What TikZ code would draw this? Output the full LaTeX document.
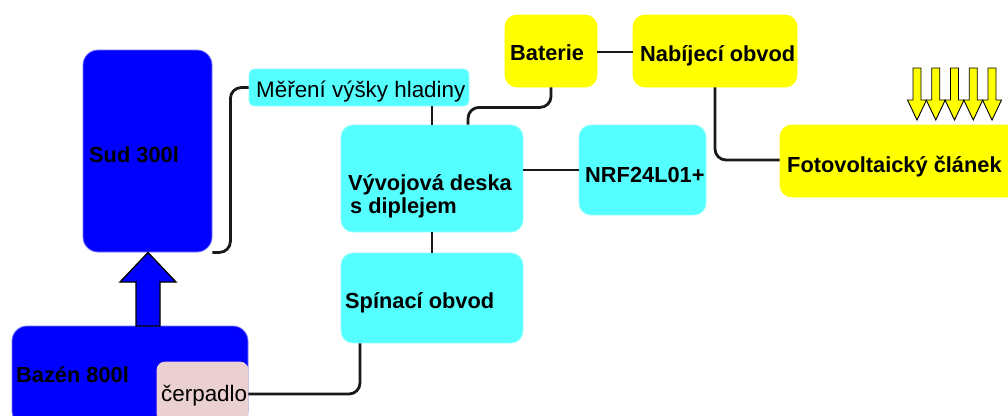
\documentclass[tikz,border=0pt]{standalone}
\usepackage{fontspec}
\setmainfont{Liberation Sans}
\usetikzlibrary{calc}
\definecolor{tankblue}{RGB}{0,0,255}
\definecolor{tankedge}{RGB}{120,120,255}
\definecolor{ctrlcyan}{RGB}{85,255,255}
\definecolor{ctrledge}{RGB}{150,255,255}
\definecolor{pwryellow}{RGB}{255,255,0}
\definecolor{pumppink}{RGB}{234,208,208}
\definecolor{wire}{RGB}{25,25,25}
\begin{document}
\begin{tikzpicture}[x=1pt,y=-1pt,
  blk/.style={inner sep=0pt, rounded corners=12pt, line width=0.8pt},
  tank/.style={blk, fill=tankblue, draw=tankedge, rounded corners=15pt},
  ctrl/.style={blk, fill=ctrlcyan, draw=ctrledge},
  pwr/.style={blk, fill=pwryellow, draw=pwryellow},
  pump/.style={blk, fill=pumppink, draw=pumppink, rounded corners=8pt},
  lbl/.style={inner sep=0pt, anchor=base west, text=black,
              font=\fontsize{21.8}{24}\selectfont\bfseries},
  lblr/.style={inner sep=0pt, anchor=base west, text=black,
              font=\fontsize{22.4}{25}\selectfont},
  wired/.style={draw=wire, line width=2.8pt, rounded corners=11pt},
  bigarrow/.style={fill=tankblue, draw=black, line width=1.3pt, line join=miter},
  sunray/.style={fill=pwryellow, draw=black, line width=0.9pt, line join=miter}]
\useasboundingbox (0,0) rectangle (1008,415);
\clip (0,0) rectangle (1008,415);

% water tanks and pump
\node[tank, minimum width=129pt, minimum height=202pt] (sud) at (147.5,151) {};
\node[tank, minimum width=236pt, minimum height=100pt] (bazen) at (130,376) {};
\node[pump, minimum width=91pt, minimum height=60pt] (cerp) at (202.5,392) {};

% pumping direction: pool to barrel
\draw[bigarrow] (148,252.5) -- (176,282) -- (160,282) -- (160,326)
  -- (136,326) -- (136,282) -- (120,282) -- cycle;

% control electronics
\node[ctrl, rounded corners=5pt, minimum width=220pt, minimum height=37pt] (mereni) at (359,87.5) {};
\node[ctrl, minimum width=182pt, minimum height=107pt] (vyvoj) at (432,178.5) {};
\node[ctrl, minimum width=127pt, minimum height=90pt] (nrf) at (642.5,170) {};
\node[ctrl, minimum width=182pt, minimum height=90pt] (spin) at (432,298) {};

% power supply
\node[pwr, minimum width=92pt, minimum height=72pt] (bat) at (551,51) {};
\node[pwr, minimum width=164pt, minimum height=72pt] (nab) at (715,51) {};
\node[pwr, minimum width=240pt, minimum height=72pt] (foto) at (900,161) {};

% sunlight falling on the panel
\foreach \c in {917,935.75,954.5,973.25,992}
  \draw[sunray] (\c-4,68) -- (\c+4,68) -- (\c+4,100) -- (\c+9.5,100)
    -- (\c,120) -- (\c-9.5,100) -- (\c-4,100) -- cycle;

% wiring
\draw[wired] (sud.south east) -- ++(18,0) |- (mereni.west);
\draw[wired] (vyvoj.north) -- (vyvoj.north |- mereni.south);
\draw[wired] (bat.south) -- ++(0,20) -| ([xshift=36pt]vyvoj.north);
\draw[wired] (bat.east |- 0,52) -- (nab.west |- 0,52);
\draw[wired] (nab.south) |- ([yshift=1pt]foto.west);
\draw[wired] (nrf.west) -- (nrf.west -| vyvoj.east);
\draw[wired] (vyvoj.south) -- (spin.north);
\draw[wired] ([xshift=-72pt]spin.south) |- ([yshift=-2pt]cerp.east);

% labels
\node[lbl] (sudT) at (89,162) {Sud 300l};
\node[lbl] (bazenT) at (16,382) {Bazén 800l};
\node[lblr] (cerpT) at (161,401) {čerpadlo};
\node[lblr] (mereniT) at (256,97) {Měření výšky hladiny};
\node[lbl] (vyvojT) at (348,190) {Vývojová deska};
\node[lbl] (vyvojT2) at (350,213) {s diplejem};
\node[lbl] (nrfT) at (585,182) {NRF24L01+};
\node[lbl] (spinT) at (345,308) {Spínací obvod};
\node[lbl] (batT) at (510,60) {Baterie};
\node[lbl] (nabT) at (640,61) {Nabíjecí obvod};
\node[lbl] (fotoT) at (787,172) {Fotovoltaický článek};
\end{tikzpicture}
\end{document}
